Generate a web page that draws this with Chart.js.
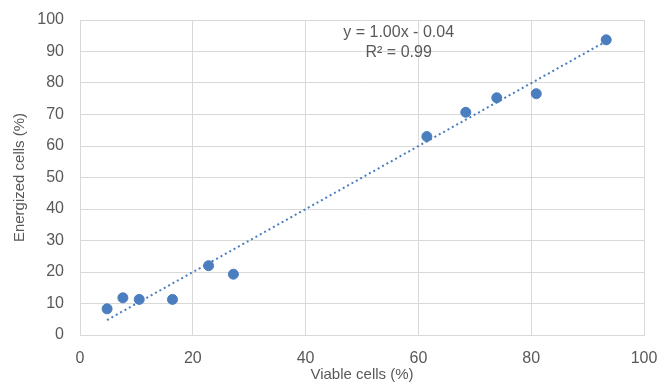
<!DOCTYPE html>
<html>
<head>
<meta charset="utf-8">
<script src="https://cdn.jsdelivr.net/npm/chart.js@4/dist/chart.umd.min.js"></script>
<style>
  html, body { margin: 0; padding: 0; background: #ffffff; }
  #wrap { width: 660px; height: 389px; position: relative; }
</style>
</head>
<body>
<div id="wrap"><canvas id="c" width="660" height="389"></canvas></div>
<script>
// Data
const viableCells = [4.8, 7.6, 10.5, 16.4, 22.8, 27.2, 61.5, 68.4, 73.9, 80.9, 93.3];
const energizedCells = [8.3, 11.8, 11.3, 11.3, 22.0, 19.3, 63.0, 70.7, 75.3, 76.6, 93.7];
const trendX = [4.8, 93.3];
const trendY = [4.76, 93.26];
const xTicks = [0, 20, 40, 60, 80, 100];
const yTicks = [0, 10, 20, 30, 40, 50, 60, 70, 80, 90, 100];
const equationLines = ["y = 1.00x - 0.04", "R\u00B2 = 0.99"];
const equationAnchor = { x: 56.5, y: [95.9, 89.8] };
const xTitle = "Viable cells (%)";
const yTitle = "Energized cells (%)";

const blue = "#4a7ebf";
const gridColor = "#d9d9d9";
const textColor = "#595959";
const fontFamily = "'Liberation Sans', Arial, sans-serif";

const equationPlugin = {
  id: "equation",
  afterDatasetsDraw(chart) {
    const ctx = chart.ctx;
    const xs = chart.scales.x, ys = chart.scales.y;
    ctx.save();
    ctx.fillStyle = textColor;
    ctx.font = "16px " + fontFamily;
    ctx.textAlign = "center";
    ctx.textBaseline = "middle";
    equationLines.forEach((t, i) => {
      ctx.fillText(t, xs.getPixelForValue(equationAnchor.x), ys.getPixelForValue(equationAnchor.y[i]));
    });
    ctx.restore();
  }
};

function clearPadding(scale) {
  scale.paddingTop = 0;
  scale.paddingBottom = 0;
  scale.paddingLeft = 0;
  scale.paddingRight = 0;
}

new Chart(document.getElementById("c"), {
  data: {
    datasets: [
      {
        type: "scatter",
        label: "Cells",
        data: viableCells.map((x, i) => ({ x: x, y: energizedCells[i] })),
        backgroundColor: blue,
        borderColor: blue,
        pointRadius: 5,
        pointHoverRadius: 5,
        order: 1
      },
      {
        type: "line",
        label: "Trend",
        data: trendX.map((x, i) => ({ x: x, y: trendY[i] })),
        borderColor: blue,
        borderWidth: 2,
        borderDash: [2, 3],
        pointRadius: 0,
        fill: false,
        order: 2
      }
    ]
  },
  options: {
    responsive: false,
    animation: false,
    layout: { padding: { left: 0, right: 16, top: 20, bottom: 0 } },
    plugins: {
      legend: { display: false },
      tooltip: { enabled: false }
    },
    scales: {
      x: {
        type: "linear",
        min: 0,
        max: 100,
        afterBuildTicks(scale) { scale.ticks = xTicks.map(v => ({ value: v })); },
        afterFit(scale) { scale.height = 54; clearPadding(scale); },
        grid: { color: gridColor, drawTicks: false, lineWidth: 1 },
        border: { color: gridColor },
        ticks: {
          color: textColor,
          font: { family: fontFamily, size: 16 },
          padding: 14,
          maxRotation: 0
        },
        title: {
          display: true,
          text: xTitle,
          color: textColor,
          font: { family: fontFamily, size: 15 },
          padding: { top: 0, bottom: 5 }
        }
      },
      y: {
        type: "linear",
        min: 0,
        max: 100,
        afterBuildTicks(scale) { scale.ticks = yTicks.map(v => ({ value: v })); },
        afterFit(scale) { scale.width = 80; clearPadding(scale); },
        grid: { color: gridColor, drawTicks: false, lineWidth: 1 },
        border: { color: gridColor },
        ticks: {
          color: textColor,
          font: { family: fontFamily, size: 16 },
          padding: 16
        },
        title: {
          display: true,
          text: yTitle,
          color: textColor,
          font: { family: fontFamily, size: 15 },
          padding: { top: 11, bottom: 0 }
        }
      }
    }
  },
  plugins: [equationPlugin]
});
</script>
</body>
</html>
